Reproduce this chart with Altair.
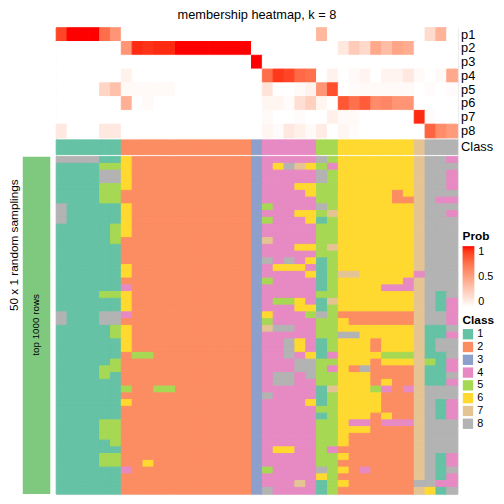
import altair as alt
import pandas as pd

# ---------------- data ----------------
prob_names = ["p1", "p2", "p3", "p4", "p5", "p6", "p7", "p8"]
n_cols = 37

p1 = [0.88, 1, 1, 1, 0.73, 0.55, 0, 0, 0, 0, 0, 0, 0, 0, 0, 0, 0, 0, 0, 0, 0, 0, 0, 0,
      0.38, 0, 0, 0, 0, 0, 0, 0, 0, 0, 0.19, 0.4, 0]
p2 = [0, 0, 0, 0, 0, 0, 0.55, 0.95, 0.93, 0.95, 0.95, 1, 1, 1, 1, 1, 1, 1, 0, 0, 0, 0, 0, 0,
      0, 0, 0.12, 0.28, 0.2, 0.45, 0.35, 0.47, 0.43, 0, 0, 0, 0]
p3 = [0, 0, 0, 0, 0, 0, 0, 0, 0, 0, 0, 0, 0, 0, 0, 0, 0, 0, 1, 0, 0, 0, 0, 0,
      0, 0, 0, 0, 0, 0, 0, 0, 0, 0, 0, 0, 0]
p4 = [0, 0, 0, 0, 0, 0, 0.07, 0, 0, 0, 0, 0, 0, 0, 0, 0, 0, 0, 0, 0.73, 0.92, 0.88, 0.75, 0.72,
      0, 0.07, 0, 0.03, 0.06, 0, 0.06, 0.06, 0.12, 0.03, 0, 0.03, 0.45]
p5 = [0, 0, 0, 0, 0.22, 0.33, 0.03, 0.03, 0.03, 0.03, 0.03, 0, 0, 0, 0, 0, 0, 0, 0, 0.15, 0, 0, 0.03, 0.07,
      0.55, 0.85, 0, 0.02, 0.03, 0.03, 0.03, 0.03, 0.03, 0, 0.02, 0, 0.02]
p6 = [0, 0, 0, 0, 0, 0, 0.42, 0, 0.03, 0, 0, 0, 0, 0, 0, 0, 0, 0, 0, 0.05, 0.05, 0.02, 0.17, 0.25,
      0.05, 0, 0.82, 0.72, 0.8, 0.6, 0.62, 0.55, 0.55, 0, 0, 0, 0]
p7 = [0, 0, 0, 0, 0, 0, 0, 0, 0, 0, 0, 0, 0, 0, 0, 0, 0, 0, 0, 0.03, 0, 0, 0.02, 0,
      0, 0.08, 0.03, 0.03, 0, 0, 0, 0, 0, 0.95, 0.02, 0, 0]
p8 = [0.12, 0, 0, 0, 0.12, 0.12, 0, 0, 0, 0, 0, 0, 0, 0, 0, 0, 0, 0, 0, 0.05, 0.02, 0.12, 0.08, 0.03,
      0.1, 0, 0.05, 0.02, 0, 0, 0, 0, 0, 0, 0.77, 0.6, 0.52]
prob_values = [p1, p2, p3, p4, p5, p6, p7, p8]
prob_legend_values = [0, 0.5, 1]

# class of each column (annotation row)
column_class = "111111 222222222222 3 44444 55 6666666 7 888"

# 50 random samplings: class of each column
samplings = [
    "888811 622222222222 3 44444 85 6666666 7 884",
    "111155 622222222222 3 46876 54 6666666 7 888",
    "111188 622222222222 3 44444 85 6666666 7 884",
    "111188 622222222222 3 44444 85 6666666 7 884",
    "111155 622222222222 3 44466 55 6666666 7 884",
    "111155 222222222222 3 44446 55 6666626 7 888",
    "111155 222222222222 3 44444 55 6666622 7 844",
    "811111 622222222222 3 54444 85 6666666 7 888",
    "811111 622222222222 3 44466 57 6666666 7 884",
    "811111 622222222222 3 54446 15 6666666 7 888",
    "111115 622222222222 3 44444 55 6666666 7 888",
    "111115 622222222222 3 44444 55 6666666 7 888",
    "111115 222222222222 3 74444 55 6666666 7 888",
    "111111 222222222222 3 44466 57 6666666 7 888",
    "111111 222222222222 3 44444 55 6666666 7 888",
    "111111 222222222222 3 84846 15 6666666 7 888",
    "111111 622222222222 3 46664 15 6666666 7 888",
    "111111 622222222222 3 44446 15 7766666 4 888",
    "111111 222222222222 3 54444 15 6666664 7 888",
    "111111 422222222222 3 44444 15 6666444 7 888",
    "111155 622222222222 3 44444 55 6666666 7 818",
    "111111 622222222222 3 45564 17 6666666 7 814",
    "111111 622222222222 3 44466 15 6666666 7 814",
    "811188 422222222222 3 64445 85 2222222 7 884",
    "811188 222222222222 3 54444 55 6222222 7 884",
    "111115 622222222222 3 78844 55 6666666 7 118",
    "111115 622222222222 3 44444 55 8866666 7 114",
    "111111 622222222222 3 44864 15 6662666 7 188",
    "111111 622222222222 3 44864 15 6662666 7 188",
    "111111 255222222222 3 44846 14 6666555 7 118",
    "111115 222222222222 3 44488 55 6662666 7 514",
    "111155 222222222222 3 44488 54 6282222 7 114",
    "111151 222222222222 3 48848 55 6662222 7 118",
    "111111 222222222222 3 48844 55 6662622 7 114",
    "111111 522552222222 3 44444 17 6665424 7 888",
    "111111 222222222222 3 84444 15 6666222 7 888",
    "111111 622222222222 3 44446 15 6666222 7 814",
    "111111 222222222222 3 44444 55 6666222 7 814",
    "111111 222222222222 3 44444 15 6662622 7 814",
    "111155 222222222222 3 44444 55 6442444 7 888",
    "111155 222222222222 3 44444 55 6662222 7 888",
    "111155 222222222222 3 44444 55 6222222 7 888",
    "111115 222222222222 3 44444 55 6222222 7 888",
    "111111 222222222222 3 46644 54 2222222 7 888",
    "111155 222222222222 3 44444 55 6222222 7 814",
    "111155 226222222222 3 44444 55 2222222 7 814",
    "111111 422222222222 3 54444 85 6242222 7 818",
    "111111 222222222222 3 44444 65 2222222 7 814",
    "111111 222222222222 3 44474 15 6222222 8 844",
    "111111 222222222222 3 84444 15 2222222 7 618",
]

class_names = ["1", "2", "3", "4", "5", "6", "7", "8"]
class_colors = ["#66C2A5", "#FC8D62", "#8DA0CB", "#E78AC3",
                "#A6D854", "#FFD92F", "#E5C494", "#B3B3B3"]

title_text = "membership heatmap, k = 8"
left_title = "50 x 1 random samplings"
group_label = "top 1000 rows"

# ---------------- tables ----------------
top_df = pd.DataFrame([
    {"row": name, "col": j, "prob": vals[j]}
    for name, vals in zip(prob_names, prob_values) for j in range(n_cols)
])
top_df["prob_edge"] = top_df["prob"]
cc = column_class.replace(" ", "")
class_df = pd.DataFrame([{"row": "Class", "col": j, "cls": cc[j]} for j in range(n_cols)])
class_df["cls_edge"] = class_df["cls"]
bottom_df = pd.DataFrame([
    {"row": i, "col": j, "cls": s.replace(" ", "")[j]}
    for i, s in enumerate(samplings) for j in range(n_cols)
])
bottom_df["cls_edge"] = bottom_df["cls"]
legend_df = pd.DataFrame({"prob": prob_legend_values})

W, H = 408, 474
SW = 1.0
x_enc = alt.X("col:O", axis=None, scale=alt.Scale(paddingInner=0, paddingOuter=0))
class_scale = alt.Scale(domain=class_names, range=class_colors)
prob_scale = alt.Scale(domain=[0, 1], range=["#ffffff", "#ff0000"], interpolate="lab")

top = alt.Chart(top_df).mark_rect(strokeWidth=SW).encode(
    x=x_enc,
    y=alt.Y("row:O", scale=alt.Scale(domain=prob_names, range=[0, 112], paddingInner=0, paddingOuter=0),
            axis=alt.Axis(orient="right", title=None, ticks=False, domain=False,
                          labelFontSize=13, labelPadding=3, labelColor="black")),
    color=alt.Color("prob:Q", scale=prob_scale, legend=None),
    stroke=alt.Stroke("prob_edge:Q", scale=prob_scale, legend=None),
)

# invisible layer that only carries the gradient legend
prob_legend = alt.Chart(legend_df).mark_point(size=0, filled=True, opacity=1).encode(
    x=alt.value(0), y=alt.value(0),
    color=alt.Color("prob:Q", scale=prob_scale,
                    legend=alt.Legend(type="gradient", title="Prob", orient="none", legendX=413, legendY=207,
                                      direction="vertical", values=prob_legend_values, format="~g",
                                      gradientLength=62, gradientThickness=12, gradientOpacity=1,
                                      titleFontSize=12, titleFontWeight="bold", titlePadding=3,
                                      labelFontSize=11, labelOffset=4, padding=0,
                                      titleColor="black", labelColor="black")),
)

crow = alt.Chart(class_df).mark_rect(strokeWidth=SW).encode(
    x=x_enc,
    y=alt.Y("row:N", scale=alt.Scale(domain=["Class"], range=[114, 129], paddingInner=0, paddingOuter=0),
            axis=alt.Axis(orient="right", title=None, ticks=False, domain=False,
                          labelFontSize=13, labelPadding=3, labelColor="black")),
    color=alt.Color("cls:N", scale=class_scale, legend=None),
    stroke=alt.Stroke("cls_edge:N", scale=class_scale, legend=None),
)

bottom = alt.Chart(bottom_df).mark_rect(strokeWidth=SW).encode(
    x=x_enc,
    y=alt.Y("row:O", scale=alt.Scale(domain=list(range(50)), range=[131, 474], paddingInner=0, paddingOuter=0),
            axis=None),
    color=alt.Color("cls:N", scale=class_scale,
                    legend=alt.Legend(title="Class", orient="none", legendX=413, legendY=292,
                                      symbolType="square", symbolSize=110, symbolStrokeWidth=0,
                                      rowPadding=1, titleFontSize=12, titleFontWeight="bold",
                                      titlePadding=2, labelFontSize=11, labelOffset=4, padding=0,
                                      titleColor="black", labelColor="black")),
    stroke=alt.Stroke("cls_edge:N", scale=class_scale, legend=None),
)

one = pd.DataFrame({"a": [0]})
green_bar = alt.Chart(one).mark_rect(color="#7FC97F").encode(
    x=alt.value(-34), x2=alt.value(-6), y=alt.value(131), y2=alt.value(474))
group_text = alt.Chart(one).mark_text(angle=270, fontSize=10, color="black").encode(
    x=alt.value(-20), y=alt.value(302), text=alt.value(group_label))
side_title = alt.Chart(one).mark_text(angle=270, fontSize=12, color="black").encode(
    x=alt.value(-43), y=alt.value(221), text=alt.value(left_title))
main_title = alt.Chart(one).mark_text(fontSize=13, color="black").encode(
    x=alt.value(204), y=alt.value(-13), text=alt.value(title_text))

chart = alt.layer(top, prob_legend, crow, bottom, green_bar, group_text, side_title, main_title).resolve_scale(
    y="independent", color="independent", stroke="independent"
).properties(
    width=W, height=H,
    autosize=alt.AutoSizeParams(type="none"),
    padding={"left": 49, "top": 16, "right": 39, "bottom": 6},
).configure_view(stroke=None).configure(font="Liberation Sans")

chart.save("out.html", embed_options={"renderer": "svg", "actions": False})
